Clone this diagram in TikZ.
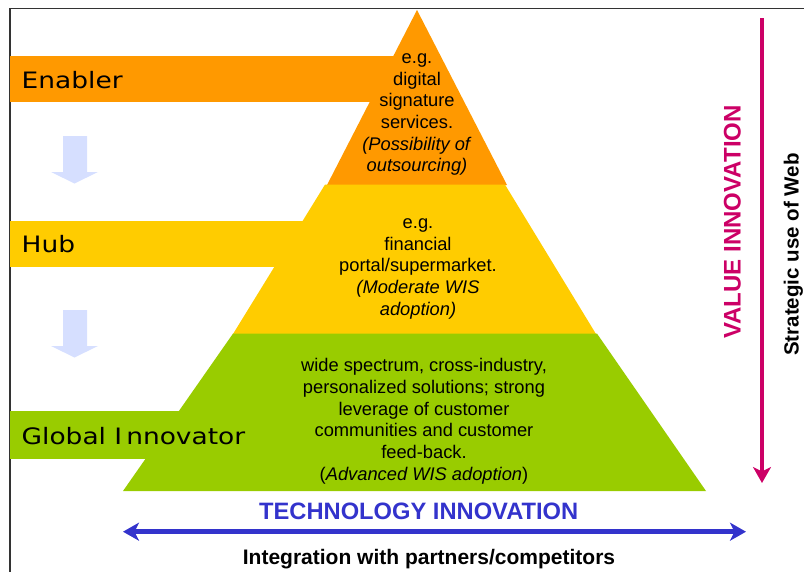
\documentclass[tikz,border=0pt]{standalone}
\usepackage{fontspec}
\setmainfont{Liberation Sans}
\newfontfamily\tierfont[FakeStretch=1.17]{DejaVu Sans}
\usetikzlibrary{arrows.meta}

\definecolor{enablerorange}{HTML}{FF9900}
\definecolor{hubyellow}{HTML}{FFCC00}
\definecolor{innovgreen}{HTML}{99CC00}
\definecolor{stepblue}{RGB}{214,223,255}
\definecolor{techblue}{HTML}{3333CC}
\definecolor{valuemagenta}{HTML}{CC0066}
\definecolor{framegray}{HTML}{333333}

\tikzset{
  tierlabel/.style={anchor=base west, inner sep=0pt,
    font=\tierfont\fontsize{22.6}{26}\selectfont},
  tiertext/.style={align=center, inner sep=0pt,
    font=\fontsize{18.3}{21.7}\selectfont},
  stepmark/.style={fill=stepblue, draw=none},
  axisarrow/.style={line width=4.5pt,
    arrows={-Stealth[length=16pt,width=18pt,inset=4.5pt]}},
  axistitle/.style={inner sep=0pt, font=\bfseries\fontsize{23.7}{28}\selectfont},
}

\begin{document}
\begin{tikzpicture}[x=1pt,y=-1pt]
\useasboundingbox (0,0) rectangle (804,571);

% outer frame (left and top edges)
\draw[framegray, line width=1.6pt] (10,575) -- (10,8.6) -- (808,8.6);

% level bars running into the pyramid
\fill[enablerorange] (10,56) rectangle (417,102);
\fill[hubyellow] (10,221) rectangle (340,267);
\fill[innovgreen] (10,411) rectangle (260,459);

% pyramid tiers
\fill[enablerorange] (417,10) -- (507,185) -- (327,185) -- cycle;
\fill[hubyellow] (325,184.6) -- (505,184.6) -- (596,334) -- (233,334) -- cycle;
\fill[innovgreen] (233,333.6) -- (597,333.6) -- (706,491) -- (123,491) -- cycle;

% progression marks between levels
\fill[stepmark] (63,136) -- (87,136) -- (87,172) -- (98,172) -- (74.5,183.5)
  -- (51,172) -- (63,172) -- cycle;
\fill[stepmark] (63,310) -- (87,310) -- (87,346) -- (98,346) -- (74.5,357.5)
  -- (51,346) -- (63,346) -- cycle;

% level names
\node[tierlabel] (enabler) at (21.5,88) {Enabler};
\node[tierlabel] (hub) at (21.5,252.7) {Hub};
\node[tierlabel] (global) at (21.5,444.3) {Global I\kern4pt nnovator};

% tier descriptions
\node[tiertext] (enablertext) at (417,114.6)
  {e.g.\\digital\\signature\\services.\\\textit{(Possibility of}\\\textit{outsourcing)}};
\node[tiertext] (hubtext) at (418,268.8)
  {e.g.\\financial\\portal/supermarket.\\\textit{(Moderate WIS}\\\textit{adoption)}};
\node[tiertext] (globaltext) at (424,421.4)
  {wide spectrum, cross-industry,\\personalized solutions; strong\\leverage of customer\\communities and customer\\feed-back.\\(\textit{Advanced WIS adoption})};

% technology axis
\coordinate (techL) at (123,531.7);
\coordinate (techR) at (746,531.7);
\draw[axisarrow, techblue, arrows={Stealth[length=16pt,width=18pt,inset=4.5pt]-Stealth[length=16pt,width=18pt,inset=4.5pt]}] (techL) -- (techR);
\node[axistitle, text=techblue, anchor=base] (techtitle) at (418.7,519.3) {TECHNOLOGY INNOVATION};
\node[inner sep=0pt, anchor=base, font=\bfseries\fontsize{21}{25}\selectfont] (integration) at (429,564) {Integration with partners/competitors};

% value axis
\coordinate (valueT) at (762,18);
\coordinate (valueB) at (762,483);
\draw[axisarrow, valuemagenta] (valueT) -- (valueB);
\node[axistitle, text=valuemagenta, rotate=90, anchor=base, font=\bfseries\fontsize{24}{28}\selectfont] (valuetitle) at (740.5,222) {VALUE INNOVATION};
\node[inner sep=0pt, rotate=90, anchor=base, font=\bfseries\fontsize{20.5}{25}\selectfont] (strategic) at (798.5,254.5) {Strategic use of Web};
\end{tikzpicture}
\end{document}
